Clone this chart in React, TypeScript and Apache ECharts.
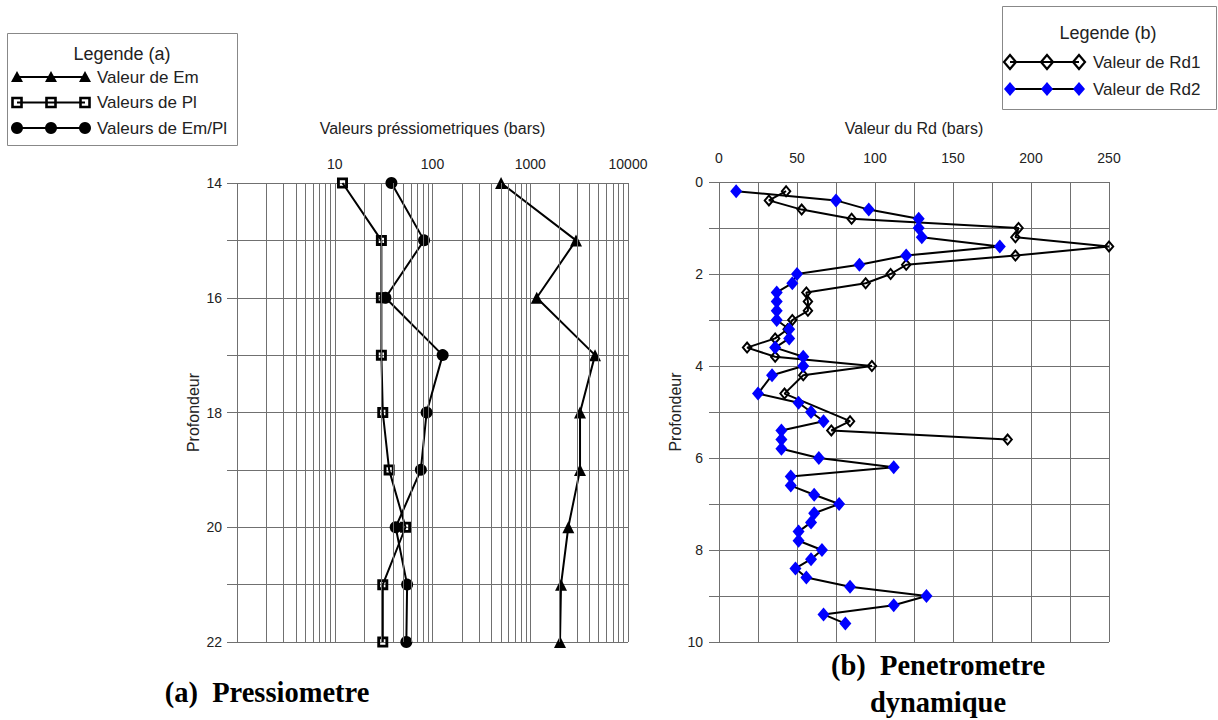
import React, { useEffect, useRef } from 'react';
import * as echarts from 'echarts';

// ---------- Data (a) Pressiometre ----------
const depthsA = [14, 15, 16, 17, 18, 19, 20, 21, 22];
const emValues = [503, 2940, 1165, 4600, 3230, 3230, 2450, 2065, 2015];
const plValues = [12, 30, 30, 30, 31, 36, 53, 31, 31];
const emPlValues = [38, 82, 33, 127, 87, 76, 42, 55, 54];
const logDecades = [1, 10, 100, 1000];
const logMinorSteps = [2, 3, 4, 5, 6, 7, 8, 9];

// ---------- Data (b) Penetrometre dynamique ----------
const rd1Depths = [0.2, 0.4, 0.6, 0.8, 1.0, 1.2, 1.4, 1.6, 1.8, 2.0, 2.2, 2.4, 2.6, 2.8, 3.0, 3.2, 3.4, 3.6, 3.8, 4.0, 4.2, 4.6, 5.2, 5.4, 5.6];
const rd1Values = [43, 32, 53, 85, 192, 190, 250, 190, 120, 110, 94, 56, 57, 57, 47, 44, 36, 18, 36, 98, 54, 42, 84, 72, 185];
const rd2Depths = [0.2, 0.4, 0.6, 0.8, 1.0, 1.2, 1.4, 1.6, 1.8, 2.0, 2.2, 2.4, 2.6, 2.8, 3.0, 3.2, 3.4, 3.6, 3.8, 4.0, 4.2,
  4.6, 4.8, 5.0, 5.2, 5.4, 5.6, 5.8, 6.0, 6.2, 6.4, 6.6, 6.8, 7.0, 7.2, 7.4, 7.6, 7.8, 8.0, 8.2, 8.4, 8.6, 8.8, 9.0, 9.2, 9.4, 9.6];
const rd2Values = [11, 75, 96, 128, 128, 130, 180, 120, 90, 50, 47, 37, 37, 37, 37, 45, 45, 36, 54, 54, 34,
  25, 51, 59, 67, 40, 40, 40, 64, 112, 46, 46, 61, 77, 61, 59, 51, 51, 66, 59, 49, 56, 84, 133, 112, 67, 81];

const SANS = '"Liberation Sans", Arial, sans-serif';
const SERIF = '"Liberation Serif", "Times New Roman", serif';
const GRID_COLOR = '#707070';

const pairs = (xs: number[], ys: number[]) => xs.map((x, i) => [x, ys[i]]);

const squareHollow = 'path://M0,0H10V10H0ZM2.6,2.6V7.4H7.4V2.6Z';
const diamondHollow = 'path://M5,0L10,6L5,12L0,6ZM5,2.8L2.3,6L5,9.2L7.7,6Z';

function legendRowLine(y: number, x0: number, x1: number) {
  return { type: 'line', shape: { x1: x0, y1: y, x2: x1, y2: y }, style: { stroke: '#000', lineWidth: 2 } };
}
function tri(cx: number, cy: number) {
  return { type: 'polygon', shape: { points: [[cx - 6, cy + 5], [cx + 6, cy + 5], [cx, cy - 6]] }, style: { fill: '#000' } };
}
function sq(cx: number, cy: number) {
  return { type: 'rect', shape: { x: cx - 4.5, y: cy - 4.5, width: 9, height: 9 }, style: { fill: 'none', stroke: '#000', lineWidth: 2.6 } };
}
function circ(cx: number, cy: number) {
  return { type: 'circle', shape: { cx, cy, r: 6 }, style: { fill: '#000' } };
}
function dia(cx: number, cy: number, filled: boolean) {
  return {
    type: 'polygon',
    shape: { points: [[cx, cy - 7], [cx + 6, cy], [cx, cy + 7], [cx - 6, cy]] },
    style: filled ? { fill: '#0000ff' } : { fill: 'none', stroke: '#000', lineWidth: 2.2 },
  };
}
function txt(x: number, y: number, text: string, font: string, align = 'left') {
  return { type: 'text', x, y, style: { text, font, fill: '#222', textAlign: align, textVerticalAlign: 'middle' } };
}
function caption(x: number, y: number, text: string) {
  return { type: 'text', x, y, style: { text, font: `bold 28.5px ${SERIF}`, fill: '#000', textAlign: 'center', textVerticalAlign: 'middle' } };
}

export default function App() {
  const ref = useRef<HTMLDivElement>(null);
  useEffect(() => {
    const chart = echarts.init(ref.current!, null, { renderer: 'svg' });
    const minorGrid: number[] = [];
    logDecades.forEach((d) => logMinorSteps.forEach((m) => minorGrid.push(m * d)));

    const axisLabelStyle = { color: '#222', fontSize: 14, fontFamily: SANS };
    const nameStyle = { color: '#222', fontSize: 16, fontFamily: SANS };
    const splitLine = { show: true, lineStyle: { color: GRID_COLOR, width: 1 } };

    const legendA = [
      { type: 'rect', shape: { x: 7.5, y: 33.5, width: 230, height: 112 }, style: { fill: '#fff', stroke: '#888', lineWidth: 1 } },
      txt(122, 54, 'Legende (a)', `18px ${SANS}`, 'center'),
      legendRowLine(77, 17, 85), tri(17, 77), tri(51, 77), tri(85, 77),
      txt(97, 77, 'Valeur de Em', `17px ${SANS}`),
      legendRowLine(102.5, 17, 85), sq(17, 102.5), sq(51, 102.5), sq(85, 102.5),
      txt(97, 102.5, 'Valeurs de Pl', `17px ${SANS}`),
      legendRowLine(128, 17, 85), circ(17, 128), circ(51, 128), circ(85, 128),
      txt(97, 128, 'Valeurs de Em/Pl', `17px ${SANS}`),
    ];
    const legendB = [
      { type: 'rect', shape: { x: 1002.5, y: 6.5, width: 214, height: 103 }, style: { fill: '#fff', stroke: '#888', lineWidth: 1 } },
      txt(1108, 33, 'Legende (b)', `18px ${SANS}`, 'center'),
      legendRowLine(62, 1010, 1079), dia(1010, 62, false), dia(1047, 62, false), dia(1079, 62, false),
      txt(1093, 62, 'Valeur de Rd1', `17px ${SANS}`),
      legendRowLine(89, 1010, 1079), dia(1010, 89, true), dia(1047, 89, true), dia(1079, 89, true),
      txt(1093, 89, 'Valeur de Rd2', `17px ${SANS}`),
    ];
    const captions = [
      caption(267, 692, '(a)  Pressiometre'),
      caption(938, 665, '(b)  Penetrometre'),
      caption(938, 702, 'dynamique'),
    ];

    const option: any = {
      animation: false,
      backgroundColor: '#fff',
      grid: [
        { left: 237, top: 183, width: 391, height: 459 },
        { left: 719, top: 182, width: 390, height: 460 },
      ],
      xAxis: [
        {
          gridIndex: 0, type: 'log', logBase: 10, min: 1, max: 10000, position: 'top',
          axisLine: { show: false }, axisTick: { show: false },
          axisLabel: { ...axisLabelStyle, margin: 12, formatter: (v: number) => { const r = Math.round(v); return r === 1 ? '' : String(r); } },
          splitLine,
          name: 'Valeurs préssiometriques (bars)', nameLocation: 'middle', nameGap: 47, nameTextStyle: nameStyle,
        },
        {
          gridIndex: 1, type: 'value', min: 0, max: 250, interval: 25, position: 'top',
          axisLine: { show: false }, axisTick: { show: false },
          axisLabel: { ...axisLabelStyle, margin: 17, formatter: (v: number) => (v % 50 === 0 ? String(v) : '') },
          splitLine,
          name: 'Valeur du Rd (bars)', nameLocation: 'middle', nameGap: 46, nameTextStyle: nameStyle,
        },
      ],
      yAxis: [
        {
          gridIndex: 0, type: 'value', inverse: true, min: 14, max: 22, interval: 1,
          axisLine: { show: false },
          axisTick: { show: true, length: 10, lineStyle: { color: GRID_COLOR } },
          axisLabel: { ...axisLabelStyle, margin: 15, formatter: (v: number) => (v % 2 === 0 ? String(v) : '') },
          splitLine,
          name: 'Profondeur', nameLocation: 'middle', nameGap: 36, nameRotate: 90, nameTextStyle: nameStyle,
        },
        {
          gridIndex: 1, type: 'value', inverse: true, min: 0, max: 10, interval: 1,
          axisLine: { show: false },
          axisTick: { show: true, length: 10, lineStyle: { color: GRID_COLOR } },
          axisLabel: { ...axisLabelStyle, margin: 16, formatter: (v: number) => (v % 2 === 0 ? String(v) : '') },
          splitLine,
          name: 'Profondeur', nameLocation: 'middle', nameGap: 25, nameRotate: 90, nameTextStyle: nameStyle,
        },
      ],
      graphic: [...legendA, ...legendB, ...captions],
      series: [
        {
          name: 'minor', type: 'line', xAxisIndex: 0, yAxisIndex: 0, data: [], z: 1, silent: true,
          markLine: {
            silent: true, symbol: ['none', 'none'], label: { show: false },
            lineStyle: { color: GRID_COLOR, width: 1, type: 'solid' },
            emphasis: { disabled: true },
            data: minorGrid.map((v) => ({ xAxis: v })),
          },
        },
        {
          name: 'Valeur de Em', type: 'line', xAxisIndex: 0, yAxisIndex: 0, z: 3,
          data: pairs(emValues, depthsA), symbol: 'triangle', symbolSize: 12,
          lineStyle: { color: '#000', width: 2 }, itemStyle: { color: '#000' },
        },
        {
          name: 'Valeurs de Pl', type: 'line', xAxisIndex: 0, yAxisIndex: 0, z: 3,
          data: pairs(plValues, depthsA), symbol: squareHollow, symbolSize: 11,
          lineStyle: { color: '#000', width: 2 }, itemStyle: { color: '#000' },
        },
        {
          name: 'Valeurs de Em/Pl', type: 'line', xAxisIndex: 0, yAxisIndex: 0, z: 3,
          data: pairs(emPlValues, depthsA), symbol: 'circle', symbolSize: 12,
          lineStyle: { color: '#000', width: 2 }, itemStyle: { color: '#000' },
        },
        {
          name: 'Valeur de Rd1', type: 'line', xAxisIndex: 1, yAxisIndex: 1, z: 3,
          data: pairs(rd1Values, rd1Depths), symbol: diamondHollow, symbolSize: [11, 13],
          lineStyle: { color: '#000', width: 2 }, itemStyle: { color: '#000' },
        },
        {
          name: 'Valeur de Rd2', type: 'line', xAxisIndex: 1, yAxisIndex: 1, z: 4,
          data: pairs(rd2Values, rd2Depths), symbol: 'diamond', symbolSize: [12, 14],
          lineStyle: { color: '#000', width: 2 }, itemStyle: { color: '#0000ff' },
        },
      ],
    };
    chart.setOption(option);
    return () => chart.dispose();
  }, []);
  return <div ref={ref} style={{ position: 'fixed', left: 0, top: 0, width: 1218, height: 720, background: '#fff' }} />;
}
